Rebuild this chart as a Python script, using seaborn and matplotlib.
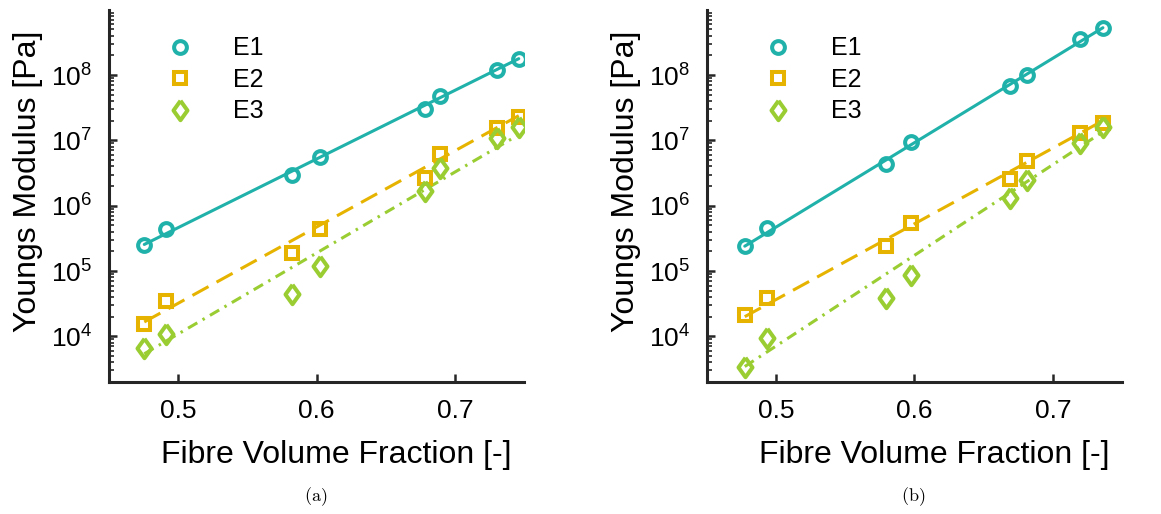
import numpy as np
import pandas as pd
import matplotlib
matplotlib.use("Agg")
import matplotlib.pyplot as plt
import seaborn as sns

# ---------------- data ----------------
series = ["E1", "E2", "E3"]

# (a)
vf_a = [0.4755, 0.491, 0.582, 0.6025, 0.6785, 0.6896, 0.7302, 0.7462]
e1_a = [2.5e5, 4.4e5, 2.9e6, 5.6e6, 3.0e7, 4.7e7, 1.19e8, 1.76e8]
e2_a = [1.57e4, 3.45e4, 1.9e5, 4.4e5, 2.7e6, 6.1e6, 1.57e7, 2.28e7]
e3_a = [6.7e3, 1.1e4, 4.4e4, 1.21e5, 1.66e6, 3.8e6, 1.07e7, 1.62e7]
fit_x_a = [0.4755, 0.7462]
fit_e1_a = [2.55e5, 1.78e8]
fit_e2_a = [1.66e4, 2.39e7]
fit_e3_a = [5.4e3, 1.22e7]

# (b)
vf_b = [0.4773, 0.4933, 0.5792, 0.5973, 0.6688, 0.6814, 0.7196, 0.7362]
e1_b = [2.4e5, 4.6e5, 4.4e6, 9.4e6, 6.7e7, 1.0e8, 3.5e8, 5.3e8]
e2_b = [2.1e4, 3.9e4, 2.45e5, 5.4e5, 2.6e6, 4.9e6, 1.31e7, 1.87e7]
e3_b = [3.4e3, 9.4e3, 3.8e4, 8.7e4, 1.31e6, 2.5e6, 9.2e6, 1.62e7]
fit_x_b = [0.4773, 0.7362]
fit_e1_b = [2.4e5, 5.3e8]
fit_e2_b = [2.0e4, 2.0e7]
fit_e3_b = [3.45e3, 1.35e7]

x_ticks = [0.5, 0.6, 0.7]
y_ticks = [1e4, 1e5, 1e6, 1e7, 1e8]
x_label = "Fibre Volume Fraction [-]"
y_label = "Youngs Modulus [Pa]"
captions = ["(a)", "(b)"]

# ---------------- style ----------------
sns.set_style("ticks")
plt.rcParams["font.family"] = ["Liberation Sans", "DejaVu Sans"]
plt.rcParams["text.color"] = "black"
plt.rcParams["axes.labelcolor"] = "black"

colors = {"E1": "#20B2AA", "E2": "#E6B400", "E3": "#9ACD32"}
diamond = [(0, 1), (0.72, 0), (0, -1), (-0.72, 0), (0, 1)]
markers = {"E1": "o", "E2": "s", "E3": diamond}
msizes = {"E1": 9.2, "E2": 8.4, "E3": 14}
fit_styles = {"E1": "-", "E2": (0, (6, 3)), "E3": (0, (3.5, 2, 0.8, 2))}
axis_color = "#262626"

fig = plt.figure(figsize=(11.61, 5.14), dpi=100)
W, H = 1161, 514
ax_a = fig.add_axes([109 / W, 1 - 382 / H, 415 / W, 372 / H])
ax_b = fig.add_axes([707 / W, 1 - 382 / H, 415 / W, 372 / H])

panels = [
    (ax_a, vf_a, {"E1": e1_a, "E2": e2_a, "E3": e3_a}, fit_x_a,
     {"E1": fit_e1_a, "E2": fit_e2_a, "E3": fit_e3_a}),
    (ax_b, vf_b, {"E1": e1_b, "E2": e2_b, "E3": e3_b}, fit_x_b,
     {"E1": fit_e1_b, "E2": fit_e2_b, "E3": fit_e3_b}),
]

for ax, vf, vals, fx, fits in panels:
    for s in series:
        df = pd.DataFrame({"vf": vf, "E": vals[s]})
        sns.lineplot(data=df, x="vf", y="E", ax=ax, color=colors[s],
                     marker=markers[s], linestyle="none", markersize=msizes[s],
                     markerfacecolor="none", markeredgecolor=colors[s],
                     markeredgewidth=2.9, label=s, zorder=3)
    for s in series:
        dff = pd.DataFrame({"vf": fx, "E": fits[s]})
        sns.lineplot(data=dff, x="vf", y="E", ax=ax, color=colors[s],
                     linestyle=fit_styles[s], linewidth=2.2, zorder=2)
    ax.set_yscale("log")
    ax.set_xlim(0.45, 0.75)
    ax.set_ylim(2e3, 9.9e8)
    ax.set_xticks(x_ticks)
    ax.set_xticklabels([f"{t:.1f}" for t in x_ticks])
    ax.set_yticks(y_ticks)
    sns.despine(ax=ax)
    for sp in ["left", "bottom"]:
        ax.spines[sp].set_color(axis_color)
        ax.spines[sp].set_linewidth(2.2)
    ax.tick_params(axis="both", which="major", direction="in", length=6, width=1.8,
                   colors=axis_color, labelcolor="black", labelsize=19, pad=12)
    ax.tick_params(axis="y", which="minor", direction="in", length=3.5, width=1.2,
                   colors=axis_color)
    ax.tick_params(axis="x", which="minor", bottom=False)
    ax.set_xlabel(x_label, fontsize=23)
    ax.set_ylabel(y_label, fontsize=23)
    ax.xaxis.set_label_coords(0.547, -0.155)
    ax.yaxis.set_label_coords(-0.158, 0.54)
    ax.legend(loc="upper left", bbox_to_anchor=(0.111, 0.956), frameon=False,
              fontsize=18, handlelength=1.2, handletextpad=1.5, labelspacing=0.3,
              borderaxespad=0)

for i, cap in enumerate(captions):
    xc = [316, 913][i] / W
    fig.text(xc, 1 - 497 / H, r"$\mathrm{" + cap + "}$", ha="center", va="center",
             fontsize=13, math_fontfamily="cm")

fig.savefig("out.png", dpi=100)
